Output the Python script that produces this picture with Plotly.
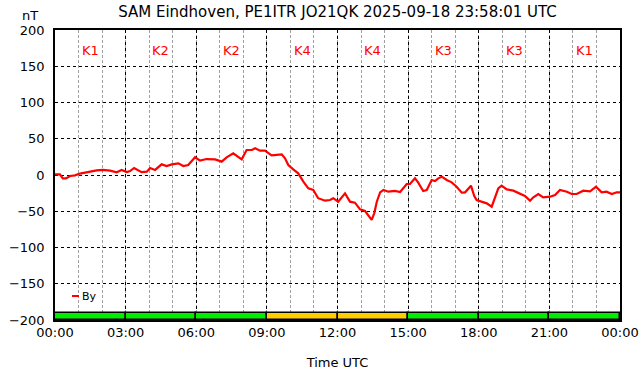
import plotly.graph_objects as go

# ---- data ----
hours = [0.00, 0.04, 0.21, 0.33, 0.47, 0.64, 0.85, 1.06, 1.27, 1.49, 1.77, 2.04, 2.34, 2.62, 2.83,
         3.05, 3.19, 3.36, 3.54, 3.68, 3.90, 4.04, 4.25, 4.42, 4.53, 4.74, 4.96, 5.24, 5.45, 5.66,
         5.95, 6.16, 6.44, 6.80, 7.08, 7.29, 7.57, 7.93, 8.14, 8.36, 8.50, 8.71, 8.92, 9.20, 9.42,
         9.63, 9.77, 9.91, 10.12, 10.33, 10.55, 10.76, 10.97, 11.18, 11.47, 11.68, 11.82, 12.03,
         12.32, 12.53, 12.74, 12.96, 13.17, 13.31, 13.45, 13.56, 13.67, 13.81, 13.95, 14.16, 14.44,
         14.66, 14.94, 15.08, 15.29, 15.43, 15.64, 15.79, 16.00, 16.14, 16.28, 16.43, 16.64, 16.85,
         17.06, 17.28, 17.42, 17.67, 17.81, 17.91, 18.13, 18.34, 18.55, 18.69, 18.83, 18.97, 19.19,
         19.47, 19.75, 19.96, 20.18, 20.32, 20.53, 20.74, 21.03, 21.24, 21.45, 21.74, 21.95, 22.16,
         22.44, 22.73, 22.98, 23.22, 23.43, 23.65, 23.86, 24.00]
by_nt = [1.0, 1.0, 1.0, -4.6, -4.6, -1.4, -0.5, 2.0, 3.2, 5.5, 6.4, 7.0, 6.0, 3.7, 7.0,
         4.0, 5.5, 9.7, 7.0, 4.0, 4.6, 9.7, 7.0, 12.4, 14.7, 12.4, 14.7, 16.0, 12.4, 13.8,
         24.4, 19.8, 22.0, 21.6, 18.4, 24.4, 29.9, 21.6, 34.5, 34.5, 36.8, 33.5, 33.5, 27.1, 27.6,
         28.5, 23.0, 13.8, 7.8, 2.3, -9.2, -18.4, -20.7, -32.0, -35.4, -34.5, -32.0, -36.8,
         -25.3, -36.8, -38.2, -47.4, -49.7, -55.2, -62.0, -52.9, -36.8, -23.9, -20.7, -23.0, -22.0,
         -23.4, -12.4, -12.4, -4.6, -10.6, -22.0, -20.7, -6.9, -8.3, -4.6, -2.3, -6.9, -10.1,
         -16.1, -24.4, -23.9, -14.7, -29.0, -34.5, -36.8, -39.1, -43.7, -32.0, -18.4, -14.7, -19.8,
         -21.6, -25.3, -29.0, -35.4, -30.8, -26.2, -30.8, -29.9, -27.6, -20.7, -23.0, -26.2, -26.2,
         -21.6, -22.5, -16.1, -23.9, -23.0, -26.2, -23.9, -23.9]

k_labels = ["K1", "K2", "K2", "K4", "K4", "K3", "K3", "K1"]
k_start_hours = [0, 3, 6, 9, 12, 15, 18, 21]
tick_hours = [0, 3, 6, 9, 12, 15, 18, 21, 24]
tick_labels = ["00:00", "03:00", "06:00", "09:00", "12:00", "15:00", "18:00", "21:00", "00:00"]
title_text = "SAM Eindhoven, PE1ITR JO21QK 2025-09-18 23:58:01 UTC"

FONT = "DejaVu Sans"
k_values = [int(k[1:]) for k in k_labels]
k_colors = ["#ffcc00" if k >= 4 else "#00ee00" for k in k_values]
k_centers = [s + 1.5 for s in k_start_hours]

fig = go.Figure()

fig.add_trace(go.Bar(
    x=k_centers, y=[10] * len(k_centers), base=-200, width=3,
    marker=dict(color=k_colors, line=dict(color="black", width=1.5)),
    showlegend=False, hoverinfo="skip"))

fig.add_trace(go.Scatter(
    x=hours, y=by_nt, mode="lines", name="By",
    line=dict(color="#ff0000", width=2.2), showlegend=False))

for c, lab in zip(k_centers, k_labels):
    fig.add_annotation(x=c, y=172, text=lab, showarrow=False,
                       font=dict(family=FONT, size=13, color="#ff0000"),
                       xref="x", yref="y")

# legend sample (By)
fig.add_shape(type="line", xref="paper", yref="paper",
              x0=17 / 565, x1=24 / 565, y0=(320 - 296) / 290, y1=(320 - 296) / 290,
              line=dict(color="#ff0000", width=2))
fig.add_annotation(xref="paper", yref="paper", x=24.5 / 565, y=(320 - 296) / 290,
                   text="By", showarrow=False, xanchor="left", yanchor="middle",
                   font=dict(family=FONT, size=11, color="black"))

fig.add_annotation(xref="paper", yref="paper", x=-25 / 565, y=(320 - 15) / 290,
                   text="nT", showarrow=False, xanchor="center", yanchor="middle",
                   font=dict(family=FONT, size=13, color="black"))

fig.update_layout(
    width=642, height=376,
    margin=dict(l=55, r=22, t=30, b=56, autoexpand=False),
    paper_bgcolor="white", plot_bgcolor="white",
    font=dict(family=FONT, size=13, color="black"),
    title=dict(text=title_text, x=0.5257, xanchor="center", xref="container",
               y=1 - 12 / 376, yanchor="middle", yref="container",
               font=dict(family=FONT, size=15, color="black"), automargin=False),
    bargap=0,
)

fig.update_xaxes(
    range=[0, 24], tickvals=tick_hours, ticktext=tick_labels,
    showgrid=True, gridcolor="black", griddash="3px,3px", gridwidth=1,
    minor=dict(dtick=1, tick0=0, showgrid=True, gridcolor="#a0a0a0", griddash="3px,2px", gridwidth=1),
    showline=True, mirror=True, linecolor="black", linewidth=1.5,
    ticks="", zeroline=False, automargin=False,
    title=dict(text="Time UTC", font=dict(family=FONT, size=13), standoff=19),
)
fig.update_yaxes(
    range=[-200, 200], dtick=50, tick0=0,
    showgrid=True, gridcolor="black", griddash="3px,3px", gridwidth=1,
    showline=True, mirror=True, linecolor="black", linewidth=1.5,
    ticks="", zeroline=False, ticklabelstandoff=6, automargin=False,
)

fig.write_html("out.html", config={"displayModeBar": False},
               post_script="document.body.style.margin='0';document.body.style.padding='0';")
